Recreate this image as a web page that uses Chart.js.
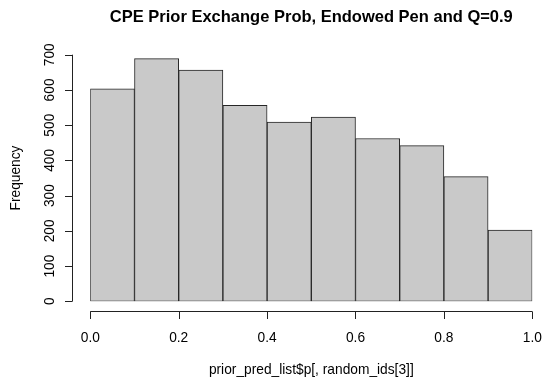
<!DOCTYPE html>
<html>
<head>
<meta charset="utf-8">
<script src="https://cdn.jsdelivr.net/npm/chart.js@4.4.0/dist/chart.umd.min.js"></script>
<style>
  html, body { margin: 0; padding: 0; background: #fff; }
  #wrap { width: 543px; height: 382px; }
</style>
</head>
<body>
<div id="wrap"><canvas id="histChart" width="543" height="382"></canvas></div>
<script>
// Histogram bins (left edges, width 0.1) and counts
const binStarts = [0.0, 0.1, 0.2, 0.3, 0.4, 0.5, 0.6, 0.7, 0.8, 0.9];
const binWidth = 0.1;
const counts = [603, 689, 656, 556, 509, 523, 462, 442, 354, 202];
const xTicks = [0.0, 0.2, 0.4, 0.6, 0.8, 1.0];
const yTicks = [0, 100, 200, 300, 400, 500, 600, 700];

const titleText = 'CPE Prior Exchange Prob, Endowed Pen and Q=0.9';
const xTitle = 'prior_pred_list$p[, random_ids[3]]';
const yTitle = 'Frequency';

const FONT = '"Liberation Sans", Arial, Helvetica, sans-serif';

// R-style axes: detached from the plot region, drawn from the chart scales
const rAxes = {
    id: 'rAxes',
    afterDraw(chart) {
        const ctx = chart.ctx;
        const xs = chart.scales.x;
        const ys = chart.scales.y;
        const area = chart.chartArea;
        const axisY = 311.5;
        const axisX = 72.5;
        const midX = (area.left + area.right) / 2;

        ctx.save();
        ctx.strokeStyle = '#222';
        ctx.lineWidth = 1;
        ctx.fillStyle = '#000';

        // x axis
        ctx.beginPath();
        ctx.moveTo(xs.getPixelForValue(xTicks[0]), axisY);
        ctx.lineTo(xs.getPixelForValue(xTicks[xTicks.length - 1]), axisY);
        xTicks.forEach(v => {
            const px = Math.round(xs.getPixelForValue(v)) + 0.5;
            ctx.moveTo(px, axisY);
            ctx.lineTo(px, axisY + 7.5);
        });
        ctx.stroke();
        ctx.font = '13.75px ' + FONT;
        ctx.textAlign = 'center';
        ctx.textBaseline = 'alphabetic';
        xTicks.forEach(v => {
            ctx.fillText(v.toFixed(1), xs.getPixelForValue(v), 342);
        });

        // y axis
        ctx.beginPath();
        ctx.moveTo(axisX, ys.getPixelForValue(yTicks[0]));
        ctx.lineTo(axisX, ys.getPixelForValue(yTicks[yTicks.length - 1]));
        yTicks.forEach(v => {
            const py = Math.round(ys.getPixelForValue(v)) + 0.5;
            ctx.moveTo(axisX, py);
            ctx.lineTo(axisX - 7.5, py);
        });
        ctx.stroke();
        yTicks.forEach(v => {
            ctx.save();
            ctx.translate(53.5, ys.getPixelForValue(v));
            ctx.rotate(-Math.PI / 2);
            ctx.fillText(String(v), 0, 0);
            ctx.restore();
        });

        // axis titles
        ctx.fillText(xTitle, midX, 374);
        ctx.save();
        ctx.translate(19.5, (area.top + area.bottom) / 2);
        ctx.rotate(-Math.PI / 2);
        ctx.fillText(yTitle, 0, 0);
        ctx.restore();

        // main title
        ctx.font = 'bold 16.5px ' + FONT;
        ctx.fillText(titleText, midX, 22);
        ctx.restore();
    }
};

const ctx = document.getElementById('histChart').getContext('2d');
const histChart = new Chart(ctx, {
    type: 'bar',
    data: {
        datasets: [{
            label: 'Frequency',
            data: binStarts.map((b, i) => ({ x: b + binWidth / 2, y: counts[i] })),
            backgroundColor: '#c9c9c9',
            borderColor: '#262626',
            borderWidth: 1,
            borderSkipped: false,
            barPercentage: 1,
            categoryPercentage: 1
        }]
    },
    options: {
        responsive: false,
        animation: false,
        layout: {
            padding: { left: 90.3, right: 10.7, top: 54.7, bottom: 80.7 }
        },
        scales: {
            x: {
                type: 'linear',
                min: 0,
                max: 1,
                offset: false,
                display: false
            },
            y: {
                min: 0,
                max: 700,
                display: false
            }
        },
        plugins: {
            legend: { display: false },
            tooltip: { enabled: false }
        }
    },
    plugins: [rAxes]
});
</script>
</body>
</html>
